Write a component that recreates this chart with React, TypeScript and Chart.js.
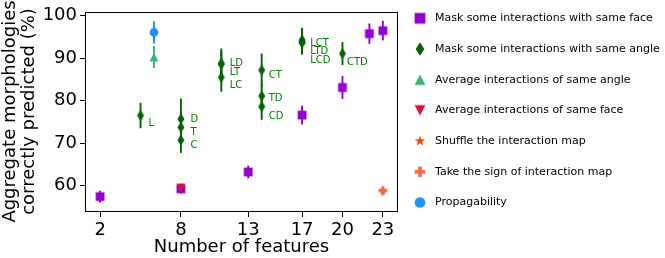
import React, { useEffect, useRef } from 'react';
import { Chart, registerables } from 'chart.js';

Chart.register(...registerables);

// ---------- data ----------
const X_TICKS = [2, 8, 13, 17, 20, 23];
const Y_TICKS = [60, 70, 80, 90, 100];

const FACE_X = [2, 8, 13, 17, 20, 22, 23];
const FACE_Y = [57.4, 59.2, 63.2, 76.6, 83.1, 95.8, 96.5];
const FACE_ERR = [1.4, 1.1, 1.5, 2.2, 2.7, 2.4, 2.3];

const ANGLE_X = [5, 8, 8, 8, 11, 11, 11, 14, 14, 14, 17, 17, 17, 20];
const ANGLE_Y = [76.5, 75.7, 73.7, 70.7, 88.8, 88.6, 85.5, 87.2, 81.1, 78.6, 94.3, 93.9, 93.6, 91.1];
const ANGLE_ERR = [3.0, 4.8, 3.5, 3.0, 3.5, 3.0, 3.4, 3.9, 3.0, 3.1, 2.9, 3.0, 2.7, 2.7];
const ANGLE_LABELS = ['L', 'D', 'T', 'C', 'LD', 'LT', 'LC', 'CT', 'TD', 'CD', 'LCT', 'LTD', 'LCD', 'CTD'];
const LABEL_X = [5.59, 8.72, 8.72, 8.72, 11.63, 11.63, 11.63, 14.52, 14.52, 14.52, 17.61, 17.61, 17.61, 20.33];
const LABEL_Y = [74.7, 75.6, 72.6, 69.5, 88.8, 86.7, 83.6, 86.0, 80.6, 76.3, 93.6, 91.6, 89.5, 89.1];

const AVG_ANGLE_X = [6];
const AVG_ANGLE_Y = [90.3];
const AVG_ANGLE_ERR = [2.6];

const AVG_FACE_X = [8];
const AVG_FACE_Y = [59.4];
const AVG_FACE_ERR = [1.0];

const SHUFFLE_X = [23];
const SHUFFLE_Y = [58.8];
const SHUFFLE_ERR = [0.7];

const SIGN_X = [23];
const SIGN_Y = [58.8];
const SIGN_ERR = [0.6];

const PROP_X = [6];
const PROP_Y = [96.1];
const PROP_ERR = [2.6];

const SERIES_NAMES = [
  'Mask some interactions with same face',
  'Mask some interactions with same angle',
  'Average interactions of same angle',
  'Average interactions of same face',
  'Shuffle the interaction map',
  'Take the sign of interaction map',
  'Propagability',
];
const SERIES_COLORS = ['#9400D3', '#006400', '#3CB371', '#DC143C', '#FF4500', '#FF6347', '#1E90FF'];
const SERIES_MARKERS = ['square', 'thinDiamond', 'triUp', 'triDown', 'star', 'plus', 'circle'];
const LABEL_COLOR = '#008000';
const FONT = '"DejaVu Sans", sans-serif';

// ---------- marker images ----------
function makeMarker(kind: string, color: string, scale: number): HTMLCanvasElement {
  const S = Math.ceil(16 * scale);
  const c = document.createElement('canvas');
  c.width = S;
  c.height = S;
  const ctx = c.getContext('2d')!;
  const cx = S / 2;
  const cy = S / 2;
  ctx.fillStyle = color;
  ctx.beginPath();
  const s = 8.8 * scale; // nominal marker size in px
  const h = s / 2;
  if (kind === 'square') {
    ctx.rect(cx - h, cy - h, s, s);
  } else if (kind === 'thinDiamond') {
    const w = h * 0.8;
    const hh = h * 1.25;
    ctx.moveTo(cx, cy - hh);
    ctx.lineTo(cx + w, cy);
    ctx.lineTo(cx, cy + hh);
    ctx.lineTo(cx - w, cy);
    ctx.closePath();
  } else if (kind === 'triUp') {
    ctx.moveTo(cx, cy - h);
    ctx.lineTo(cx + h, cy + h);
    ctx.lineTo(cx - h, cy + h);
    ctx.closePath();
  } else if (kind === 'triDown') {
    ctx.moveTo(cx, cy + h);
    ctx.lineTo(cx + h, cy - h);
    ctx.lineTo(cx - h, cy - h);
    ctx.closePath();
  } else if (kind === 'star') {
    const R = h * 1.05;
    const r = R * 0.382;
    for (let i = 0; i < 10; i++) {
      const a = -Math.PI / 2 + (i * Math.PI) / 5;
      const rr = i % 2 === 0 ? R : r;
      const px = cx + rr * Math.cos(a);
      const py = cy + rr * Math.sin(a);
      if (i === 0) ctx.moveTo(px, py);
      else ctx.lineTo(px, py);
    }
    ctx.closePath();
  } else if (kind === 'plus') {
    const a = h / 3;
    ctx.rect(cx - a, cy - h, 2 * a, s);
    ctx.rect(cx - h, cy - a, s, 2 * a);
  } else {
    ctx.arc(cx, cy, h, 0, Math.PI * 2);
  }
  ctx.fill();
  return c;
}

function pts(xs: number[], ys: number[]) {
  return xs.map((x, i) => ({ x, y: ys[i] }));
}

export default function App() {
  const ref = useRef<HTMLCanvasElement>(null);

  useEffect(() => {
    document.body.style.margin = '0';
    Chart.defaults.color = '#000';
    Chart.defaults.font.family = FONT;

    const plotMarkers = SERIES_MARKERS.map((m, i) => makeMarker(m, SERIES_COLORS[i], 1));
    const legendMarkers = SERIES_MARKERS.map((m, i) => makeMarker(m, SERIES_COLORS[i], 1.22));

    const XS = [FACE_X, ANGLE_X, AVG_ANGLE_X, AVG_FACE_X, SHUFFLE_X, SIGN_X, PROP_X];
    const YS = [FACE_Y, ANGLE_Y, AVG_ANGLE_Y, AVG_FACE_Y, SHUFFLE_Y, SIGN_Y, PROP_Y];
    const ERRS = [FACE_ERR, ANGLE_ERR, AVG_ANGLE_ERR, AVG_FACE_ERR, SHUFFLE_ERR, SIGN_ERR, PROP_ERR];

    const datasets = SERIES_NAMES.map((name, i) => ({
      label: name,
      data: pts(XS[i], YS[i]),
      pointStyle: plotMarkers[i] as any,
      pointRadius: 5,
      backgroundColor: SERIES_COLORS[i],
      borderColor: SERIES_COLORS[i],
      order: -i,
    }));

    const extras = {
      id: 'extras',
      beforeDatasetsDraw(chart: any) {
        const { ctx, scales } = chart;
        const xs = scales.x;
        const ys = scales.y;
        ctx.save();
        ctx.lineWidth = 1.9;
        for (let d = 0; d < XS.length; d++) {
          ctx.strokeStyle = SERIES_COLORS[d];
          for (let i = 0; i < XS[d].length; i++) {
            const px = xs.getPixelForValue(XS[d][i]);
            const y1 = ys.getPixelForValue(YS[d][i] - ERRS[d][i]);
            const y2 = ys.getPixelForValue(YS[d][i] + ERRS[d][i]);
            ctx.beginPath();
            ctx.moveTo(px, y1);
            ctx.lineTo(px, y2);
            ctx.stroke();
          }
        }
        ctx.restore();
      },
      afterDatasetsDraw(chart: any) {
        const { ctx, scales } = chart;
        ctx.save();
        ctx.fillStyle = LABEL_COLOR;
        ctx.font = `10px ${FONT}`;
        ctx.textAlign = 'left';
        ctx.textBaseline = 'middle';
        for (let i = 0; i < ANGLE_LABELS.length; i++) {
          ctx.fillText(
            ANGLE_LABELS[i],
            scales.x.getPixelForValue(LABEL_X[i]),
            scales.y.getPixelForValue(LABEL_Y[i])
          );
        }
        ctx.restore();
      },
      afterDraw(chart: any) {
        const { ctx, chartArea } = chart;
        ctx.save();
        ctx.strokeStyle = '#000';
        ctx.lineWidth = 1;
        ctx.strokeRect(
          Math.round(chartArea.left) - 0.5,
          Math.round(chartArea.top) + 0.5,
          Math.round(chartArea.right - chartArea.left) + 1,
          Math.round(chartArea.bottom - chartArea.top)
        );
        // legend
        const lx = chartArea.right + 23;
        const tx = chartArea.right + 38;
        ctx.font = `11px ${FONT}`;
        ctx.fillStyle = '#000';
        ctx.textAlign = 'left';
        ctx.textBaseline = 'middle';
        for (let i = 0; i < SERIES_NAMES.length; i++) {
          const y = 18.3 + i * 30.7;
          const m = legendMarkers[i];
          ctx.drawImage(m, lx - m.width / 2, y - m.height / 2);
          ctx.fillText(SERIES_NAMES[i], tx, y);
        }
        ctx.restore();
      },
    };

    const chart = new Chart(ref.current!, {
      type: 'scatter',
      data: { datasets: datasets as any },
      options: {
        animation: false,
        responsive: false,
        devicePixelRatio: 1,
        events: [],
        layout: { padding: { left: 0, top: 10, right: 268, bottom: 0 } },
        plugins: { legend: { display: false }, tooltip: { enabled: false } },
        scales: {
          x: {
            type: 'linear',
            min: 0.95,
            max: 24.05,
            border: { display: false },
            grid: { drawOnChartArea: false, drawTicks: true, tickLength: 6, tickColor: '#000', tickWidth: 1 },
            ticks: {
              padding: 3,
              font: { size: 18, family: FONT, lineHeight: 1.2 },
              color: '#000',
              callback: (v: any) => String(v),
            },
            afterBuildTicks: (scale: any) => {
              scale.ticks = X_TICKS.map((v) => ({ value: v }));
            },
            afterFit: (scale: any) => {
              scale.height = 47;
            },
            title: {
              display: true,
              text: 'Number of features',
              color: '#000',
              font: { size: 18, family: FONT, lineHeight: 1.2 },
              padding: { top: 0, bottom: 0 },
            },
          },
          y: {
            type: 'linear',
            min: 54,
            max: 100.9,
            border: { display: false },
            grid: { drawOnChartArea: false, drawTicks: true, tickLength: 6, tickColor: '#000', tickWidth: 1 },
            ticks: {
              padding: 3,
              font: { size: 18, family: FONT, lineHeight: 1 },
              color: '#000',
              callback: (v: any) => String(v),
            },
            afterBuildTicks: (scale: any) => {
              scale.ticks = Y_TICKS.map((v) => ({ value: v }));
            },
            afterFit: (scale: any) => {
              scale.width = 86;
            },
            title: {
              display: true,
              text: ['Aggregate morphologies', 'correctly predicted (%)'],
              color: '#000',
              font: { size: 18, family: FONT, lineHeight: 1.1 },
              padding: { top: 0, bottom: 0 },
            },
          },
        },
      },
      plugins: [extras],
    } as any);

    return () => chart.destroy();
  }, []);

  return (
    <div style={{ width: 665, height: 258 }}>
      <canvas ref={ref} width={665} height={258} style={{ display: 'block' }} />
    </div>
  );
}
